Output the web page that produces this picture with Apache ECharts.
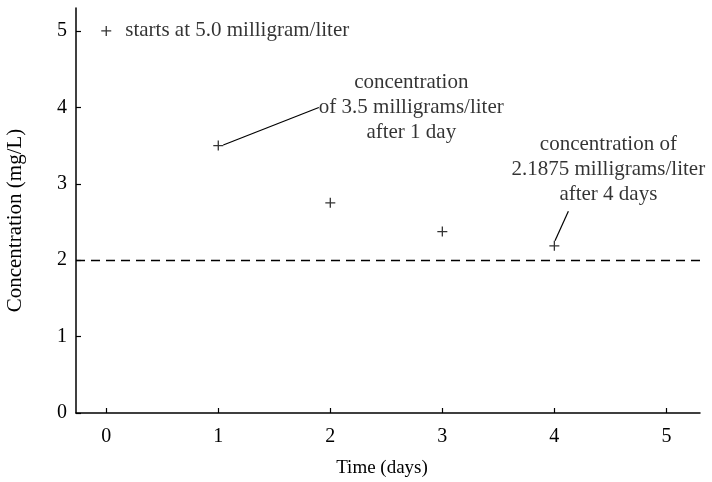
<!DOCTYPE html>
<html>
<head>
<meta charset="utf-8">
<script src="https://cdn.jsdelivr.net/npm/echarts@6/dist/echarts.min.js"></script>
<style>
  html, body { margin: 0; padding: 0; background: #fff; }
  #chart { width: 712px; height: 482px; }
</style>
</head>
<body>
<div id="chart"></div>
<script>
// data
const days = [0, 1, 2, 3, 4];
const concentration = [5.0, 3.5, 2.75, 2.375, 2.1875];
const limit = 2;
const xTicks = [0, 1, 2, 3, 4, 5];
const yTicks = [0, 1, 2, 3, 4, 5];
const notes = [
  'starts at 5.0 milligram/liter',
  'concentration\nof 3.5 milligrams/liter\nafter 1 day',
  '',
  '',
  'concentration of\n2.1875 milligrams/liter\nafter 4 days'
];

const font = 'Liberation Serif';
const ink = '#000';
const plus = 'path://M0,4.4h10v1.3h-10z M4.35,0h1.3v10h-1.3z';

const chart = echarts.init(document.getElementById('chart'));

// where each note sits relative to its point (pixels)
const noteShift = [null, [193, -38], null, null, [14, -76]];
// extra box padding so the leader line meets the note where the figure has it
const notePad = [null, [0, 0, 0, 0], null, null, [0, 0, 8, 80]];

const points = days.map((d, i) => {
  const item = { value: [d, concentration[i]] };
  if (i === 0) {
    item.label = { show: true, position: 'right', distance: 14, formatter: notes[i] };
    item.labelLine = { show: false };
  } else if (notes[i]) {
    item.label = {
      show: true,
      position: 'inside',
      align: 'center',
      verticalAlign: 'middle',
      lineHeight: 25,
      padding: notePad[i],
      formatter: notes[i]
    };
  }
  return item;
});

chart.setOption({
  animation: false,
  backgroundColor: '#fff',
  grid: { left: 76, right: 12, top: 8, bottom: 69, outerBoundsMode: 'none' },
  xAxis: {
    type: 'value',
    min: -0.27,
    max: 5.3,
    name: 'Time (days)',
    nameLocation: 'middle',
    nameGap: 46,
    nameTextStyle: { fontFamily: font, fontSize: 19, color: ink, padding: [0, 12, 0, 0] },
    axisLine: { onZero: false, lineStyle: { color: ink, width: 1.5 } },
    axisTick: { inside: true, length: 5, customValues: xTicks, lineStyle: { color: ink, width: 1.2 } },
    axisLabel: { customValues: xTicks, fontFamily: font, fontSize: 20, color: ink, margin: 14 },
    splitLine: { show: false }
  },
  yAxis: {
    type: 'value',
    min: 0,
    max: 5.3,
    name: 'Concentration (mg/L)',
    nameLocation: 'middle',
    nameGap: 50,
    nameTextStyle: { fontFamily: font, fontSize: 21, color: ink, padding: [0, 0, 0, -20] },
    axisLine: { onZero: false, lineStyle: { color: ink, width: 1.5 } },
    axisTick: { inside: true, length: 5, customValues: yTicks, lineStyle: { color: ink, width: 1.2 } },
    axisLabel: { customValues: yTicks, fontFamily: font, fontSize: 20, color: ink, margin: 9 },
    splitLine: { show: false }
  },
  series: [{
    type: 'scatter',
    symbol: plus,
    symbolSize: 10,
    itemStyle: { color: ink },
    label: { fontFamily: font, fontSize: 21, color: ink },
    labelLine: { show: true, lineStyle: { color: ink, width: 1.2 } },
    labelLayout: (p) => {
      const s = noteShift[p.dataIndex];
      return s ? { dx: s[0], dy: s[1] } : {};
    },
    data: points,
    markLine: {
      silent: true,
      symbol: 'none',
      label: { show: false },
      lineStyle: { color: ink, type: [9, 6], width: 1.4 },
      data: [{ yAxis: limit }]
    }
  }]
});
</script>
</body>
</html>
